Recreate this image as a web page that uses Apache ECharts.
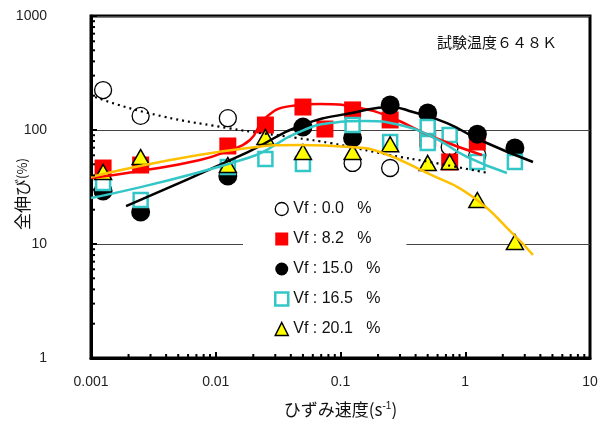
<!DOCTYPE html>
<html>
<head>
<meta charset="utf-8">
<script src="https://cdn.jsdelivr.net/npm/echarts@6.0.0/dist/echarts.min.js"></script>
<style>
html, body { margin: 0; padding: 0; background: #fff; }
#chart { width: 604px; height: 423px; }
</style>
</head>
<body>
<div id="chart"></div>
<script>
// Measured total elongation (%) against strain rate (1/s), test temperature 648 K
const rateVf00 = [0.00125, 0.0025, 0.0125, 0.125, 0.25, 0.75, 1.25];
const elongVf00 = [224, 133, 127, 51.4, 46.4, 71, 60.3];

const rateVf82 = [0.00125, 0.0025, 0.0125, 0.025, 0.05, 0.075, 0.125, 0.25, 0.5, 0.75, 1.25];
const elongVf82 = [46.4, 49.3, 72.4, 110.6, 159, 102, 150, 122.5, 84, 52.4, 78.5];

const rateVf150 = [0.00125, 0.0025, 0.0125, 0.05, 0.125, 0.25, 0.5, 1.25, 2.5];
const elongVf150 = [29.2, 19.1, 39.5, 106, 85, 166, 141, 92, 69.5];

const rateVf165 = [0.00125, 0.0025, 0.0125, 0.025, 0.05, 0.125, 0.25, 0.5, 0.5, 0.75, 1.25, 2.5];
const elongVf165 = [34.3, 24.3, 47.4, 55.7, 50.3, 110.6, 78.5, 106, 77, 90.4, 52.4, 52.4];

const rateVf201 = [0.00125, 0.0025, 0.0125, 0.025, 0.05, 0.125, 0.25, 0.5, 0.75, 1.25, 2.5];
const elongVf201 = [42.8, 58, 49.3, 86.8, 64.1, 64.1, 75, 51.4, 52.4, 24.3, 10.4];

// Trend curves, sampled along each fitted line
const fitRateVf00 = [0.00108, 0.00286, 0.0125, 0.0448, 0.0824, 0.249, 0.521, 1.52];
const fitElongVf00 = [194.6, 141, 104, 85.1, 76.9, 60.3, 52.4, 42];

const fitRateVf82 = [0.001, 0.00247, 0.00748, 0.0125, 0.0188, 0.0248, 0.0394, 0.0685, 0.143, 0.249, 0.551, 1.36];
const fitElongVf82 = [37.9, 43.7, 54.6, 65.5, 81.7, 127, 162, 169, 156, 130, 86.8, 60.3];

const fitRateVf150 = [0.00191, 0.0181, 0.0491, 0.1355, 0.249, 0.381, 0.714, 1.31, 3.49];
const fitElongVf150 = [21.5, 64.1, 110.6, 143.8, 159, 143.8, 115, 81.7, 52.4];

const fitRateVf165 = [0.001, 0.0181, 0.0448, 0.0824, 0.157, 0.3, 0.551, 1.033, 2.16];
const fitElongVf165 = [25.3, 56.8, 94.2, 115, 120, 110.6, 86.8, 58, 42];

const fitRateVf201 = [0.001, 0.0181, 0.0473, 0.119, 0.207, 0.493, 1.153, 2.46, 3.49];
const fitElongVf201 = [38.7, 69.5, 73.9, 71, 64.1, 42, 25.8, 12, 8.0];

const seriesNames = ['Vf : 0.0   %', 'Vf : 8.2   %', 'Vf : 15.0   %', 'Vf : 16.5   %', 'Vf : 20.1   %'];
const xTickLabels = ['0.001', '0.01', '0.1', '1', '10'];
const yTickLabels = ['1', '10', '100', '1000'];

function pairs(xs, ys) { return xs.map((x, i) => [x, ys[i]]); }

const LABEL_FONT = '"Liberation Sans", Arial, sans-serif';
const JP_FONT = '"Noto Sans CJK JP", "Noto Sans", sans-serif';

const markerStyles = [
  { symbol: 'circle', symbolSize: 17, itemStyle: { color: '#fff', borderColor: '#000', borderWidth: 1.3, opacity: 1 } },
  { symbol: 'rect', symbolSize: 17, itemStyle: { color: '#ff0000', opacity: 1 } },
  { symbol: 'circle', symbolSize: 19, itemStyle: { color: '#000', opacity: 1 } },
  { symbol: 'rect', symbolSize: 14, itemStyle: { color: '#fff', borderColor: '#33c6c6', borderWidth: 2.5, opacity: 1 } },
  { symbol: 'triangle', symbolSize: [17, 15], itemStyle: { color: '#ffff00', borderColor: '#000', borderWidth: 1.5, opacity: 1 } }
];

const pointSets = [
  pairs(rateVf00, elongVf00),
  pairs(rateVf82, elongVf82),
  pairs(rateVf150, elongVf150),
  pairs(rateVf165, elongVf165),
  pairs(rateVf201, elongVf201)
];

const fitSets = [
  { data: pairs(fitRateVf00, fitElongVf00), color: '#000', type: [2, 4], width: 2.2 },
  { data: pairs(fitRateVf82, fitElongVf82), color: '#ff0000', type: 'solid', width: 2.5 },
  { data: pairs(fitRateVf150, fitElongVf150), color: '#000', type: 'solid', width: 2.5 },
  { data: pairs(fitRateVf165, fitElongVf165), color: '#33c6c6', type: 'solid', width: 2.5 },
  { data: pairs(fitRateVf201, fitElongVf201), color: '#ffc000', type: 'solid', width: 2.5 }
];

const series = [];
pointSets.forEach((pts, i) => {
  series.push(Object.assign({
    name: seriesNames[i],
    type: 'scatter',
    data: pts,
    z: 3 + i * 0.1,
    silent: true
  }, markerStyles[i]));
});
fitSets.forEach((f) => {
  series.push({
    type: 'line',
    data: f.data,
    smooth: 0.5,
    showSymbol: false,
    silent: true,
    z: 5,
    lineStyle: { color: f.color, width: f.width, type: f.type }
  });
});

const chart = echarts.init(document.getElementById('chart'), null, { renderer: 'canvas' });

const logLabel = (list) => (v) => {
  const s = list.find((t) => Math.abs(parseFloat(t) - v) / v < 1e-6);
  return s || '';
};

chart.setOption({
  animation: false,
  backgroundColor: '#fff',
  grid: {
    left: 91, right: 14, top: 16, bottom: 65,
    outerBoundsMode: 'none', containLabel: false,
    show: true, borderColor: '#000', borderWidth: 3, backgroundColor: 'transparent'
  },
  title: {
    text: '試験温度６４８Ｋ',
    left: 432, top: 30,
    textStyle: { fontFamily: JP_FONT, fontSize: 15, fontWeight: 'normal', color: '#111' }
  },
  legend: {
    data: seriesNames,
    orient: 'vertical',
    left: 243, top: 195,
    padding: [6, 26, 6, 31],
    backgroundColor: '#fff',
    itemWidth: 13, itemHeight: 13, itemGap: 14,
    itemStyle: { borderWidth: 'inherit' },
    textStyle: { fontFamily: LABEL_FONT, fontSize: 16, color: '#111' },
    selectedMode: false
  },
  xAxis: {
    type: 'log', logBase: 10, min: 0.001, max: 10,
    name: 'ひずみ速度(s{sup|-1})',
    nameLocation: 'middle', nameGap: 43, nameMoveOverlap: false,
    nameTextStyle: {
      fontFamily: JP_FONT, fontSize: 17, color: '#111',
      rich: { sup: { fontFamily: LABEL_FONT, fontSize: 10, verticalAlign: 'top', padding: [0, 0, 8, 0] } }
    },
    axisLine: { lineStyle: { color: '#000', width: 3 } },
    axisTick: { inside: true, length: 6, lineStyle: { color: '#000', width: 2 } },
    axisLabel: { formatter: logLabel(xTickLabels), margin: 17, fontFamily: LABEL_FONT, fontSize: 14, color: '#222' },
    splitLine: { show: false }
  },
  yAxis: {
    type: 'log', logBase: 10, min: 1, max: 1000,
    name: '全伸び{s|(%)}',
    nameLocation: 'middle', nameGap: 60, nameRotate: 90, nameMoveOverlap: false,
    nameTextStyle: {
      fontFamily: JP_FONT, fontSize: 17, color: '#111', padding: [0, 14, 0, 0],
      rich: { s: { fontFamily: JP_FONT, fontSize: 13 } }
    },
    axisLine: { lineStyle: { color: '#000', width: 3 } },
    axisTick: { inside: true, length: 6, lineStyle: { color: '#000', width: 2 } },
    axisLabel: { formatter: logLabel(yTickLabels), margin: 44, fontFamily: LABEL_FONT, fontSize: 14, color: '#222' },
    splitLine: { show: true, lineStyle: { color: '#444', width: 1 } }
  },
  series: series
});

// Minor logarithmic ticks (2..9 within each decade), placed with the axis scales
const minorTicks = [];
const gridRect = chart.getModel().getComponent('grid').coordinateSystem.getRect();
const gridBottom = gridRect.y + gridRect.height;
const gridLeft = gridRect.x;
for (let d = -3; d < 1; d++) {
  for (let k = 2; k <= 9; k++) {
    const v = k * Math.pow(10, d);
    const px = chart.convertToPixel({ xAxisIndex: 0 }, v);
    minorTicks.push({ type: 'line', silent: true, z: 10,
      shape: { x1: px, y1: gridBottom, x2: px, y2: gridBottom - 4 },
      style: { stroke: '#000', lineWidth: 2 } });
  }
}
for (let d = 0; d < 3; d++) {
  for (let k = 2; k <= 9; k++) {
    const v = k * Math.pow(10, d);
    const py = chart.convertToPixel({ yAxisIndex: 0 }, v);
    minorTicks.push({ type: 'line', silent: true, z: 10,
      shape: { x1: gridLeft, y1: py, x2: gridLeft + 4, y2: py },
      style: { stroke: '#000', lineWidth: 2 } });
  }
}
chart.setOption({ graphic: minorTicks });
</script>
</body>
</html>
